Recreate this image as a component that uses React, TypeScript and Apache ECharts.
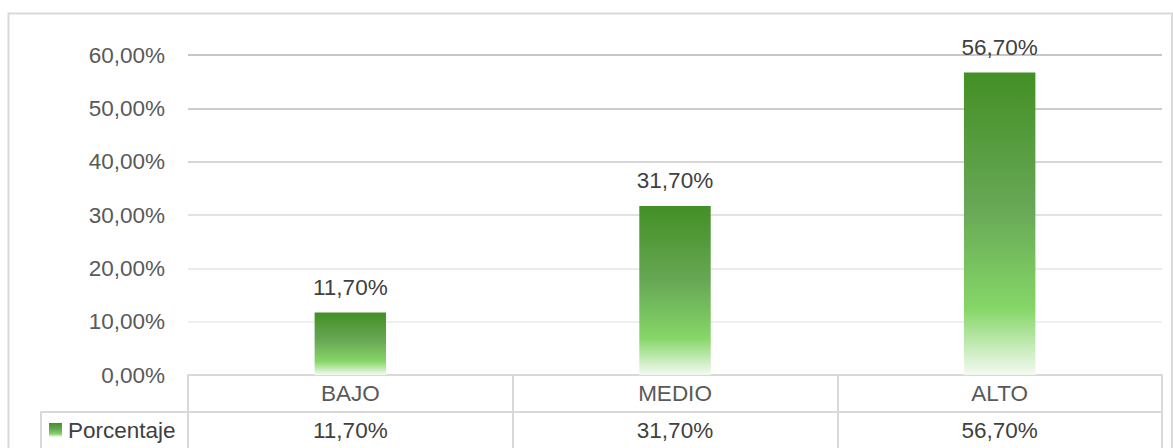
import React, { useEffect, useRef } from "react";
import * as echarts from "echarts";

const categories: string[] = ["BAJO", "MEDIO", "ALTO"];
const values: number[] = [11.7, 31.7, 56.7];
const seriesName = "Porcentaje";
const yMin = 0;
const yMax = 60;
const yInterval = 10;

const fmt = (v: number) => v.toFixed(2).replace(".", ",") + "%";
const FONT = "'Liberation Sans', Arial, sans-serif";
const FS = 22.5;

const barGradient = () =>
  new echarts.graphic.LinearGradient(0, 0, 0, 1, [
    { offset: 0, color: "#438f25" },
    { offset: 0.45, color: "#68a856" },
    { offset: 0.78, color: "#85d667" },
    { offset: 1, color: "#f4faf2" },
  ]);

export default function App() {
  const ref = useRef<HTMLDivElement>(null);
  useEffect(() => {
    if (!ref.current) return;
    const chart = echarts.init(ref.current, undefined, { renderer: "svg" });
    chart.setOption({
      animation: false,
      backgroundColor: "#ffffff",
      grid: { left: 188, right: 11, top: 55, bottom: 73, containLabel: false },
      xAxis: [
        {
          type: "category",
          data: categories,
          position: "bottom",
          axisLine: { show: true, lineStyle: { color: "#d9d9d9", width: 2 } },
          axisTick: { show: true, length: 73, lineStyle: { color: "#d9d9d9", width: 2 } },
          axisLabel: { color: "#595959", fontSize: FS, fontFamily: FONT, margin: 7 },
          splitLine: { show: false },
        },
        {
          type: "category",
          data: values.map(fmt),
          position: "bottom",
          offset: 37,
          axisLine: { show: true, lineStyle: { color: "#d9d9d9", width: 2 } },
          axisTick: { show: false },
          axisLabel: { color: "#404040", fontSize: FS, fontFamily: FONT, margin: 7 },
          splitLine: { show: false },
        },
      ],
      yAxis: {
        type: "value",
        min: yMin,
        max: yMax,
        interval: yInterval,
        axisLine: { show: false },
        axisTick: { show: false },
        axisLabel: { color: "#595959", fontSize: FS, fontFamily: FONT, margin: 23, formatter: (v: number) => fmt(v) },
        splitLine: {
          show: true,
          lineStyle: {
            width: 2,
            color: ["#d9d9d9", "#efefef", "#ebebeb", "#e2e2e2", "#d6d6d6", "#cccccc", "#c6c6c6"],
          },
        },
      },
      series: [
        {
          name: seriesName,
          type: "bar",
          xAxisIndex: 0,
          data: values,
          barWidth: "22%",
          itemStyle: { color: barGradient() },
          label: {
            show: true,
            position: "top",
            distance: 14,
            color: "#404040",
            fontSize: FS,
            fontFamily: FONT,
            formatter: (p: any) => fmt(p.value),
          },
        },
      ],
      graphic: [
        {
          type: "rect",
          shape: { x: 8.5, y: 13.5, width: 1163.5, height: 460 },
          style: { fill: "none", stroke: "#d9d9d9", lineWidth: 2 },
          silent: true,
          z: -1,
        },
        {
          type: "line",
          shape: { x1: 41, y1: 412, x2: 188, y2: 412 },
          style: { stroke: "#d9d9d9", lineWidth: 2 },
        },
        {
          type: "line",
          shape: { x1: 41, y1: 411, x2: 41, y2: 448 },
          style: { stroke: "#d9d9d9", lineWidth: 2 },
        },
        {
          type: "rect",
          shape: { x: 49, y: 423, width: 13, height: 14 },
          style: { fill: barGradient() },
        },
        {
          type: "text",
          x: 68,
          y: 430,
          style: {
            text: seriesName,
            fill: "#404040",
            fontSize: FS,
            fontFamily: FONT,
            verticalAlign: "middle",
          },
        },
      ],
    });
    return () => chart.dispose();
  }, []);
  return (
    <div
      ref={ref}
      style={{ position: "absolute", left: 0, top: 0, width: 1173, height: 448 }}
    />
  );
}
